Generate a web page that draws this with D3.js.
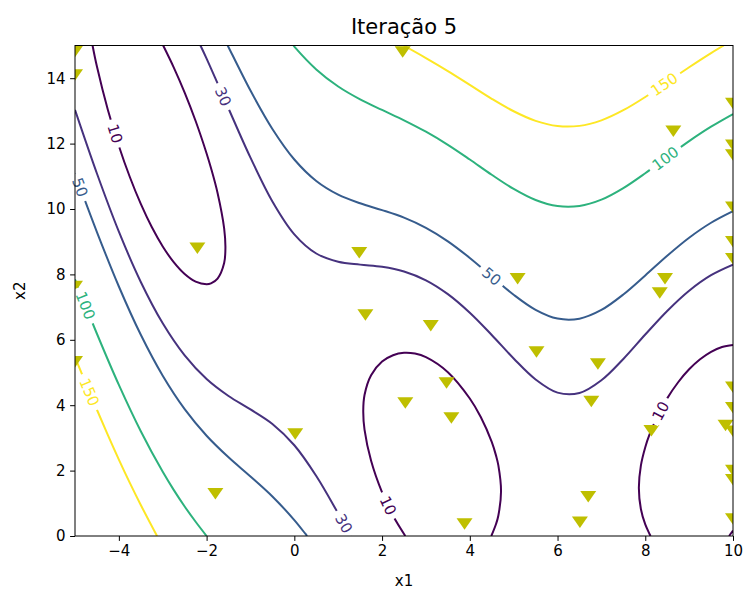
<!DOCTYPE html>
<html lang="pt">
<head>
<meta charset="UTF-8">
<title>Iteração 5</title>
<style>
  body { margin: 0; background: #fff; }
  text { font-family: "DejaVu Sans", sans-serif; }
</style>
</head>
<body>
<script src="https://d3js.org/d3.v7.min.js"></script>
<script>

var width = 746,
    height = 592;

var levels = [10, 30, 50, 100, 150];
var xTicks = [-4, -2, 0, 2, 4, 6, 8, 10];
var yTicks = [0, 2, 4, 6, 8, 10, 12, 14];

// contour lines, [x1, x2]
var c10Left = [[-4.6,15],[-4.5,14.355],[-4.25,13.027],[-4,11.928],[-3.75,10.978],[-3.5,10.154],
  [-3.25,9.447],[-3,8.854],[-2.75,8.375],[-2.5,8.012],[-2.25,7.779],[-2,7.701],[-1.9,7.728],
  [-1.75,7.873],[-1.6,8.348],[-1.571,8.819],[-1.6,9.406],[-1.75,10.489],[-1.9,11.252],
  [-2,11.699],[-2.25,12.691],[-2.5,13.56],[-2.75,14.333],[-2.99,15]];
var c10Mid = [[2.53,0],[2.25,0.617],[2,1.335],[1.75,2.302],[1.6,3.255],[1.571,3.819],[1.6,4.313],
  [1.75,4.918],[2,5.333],[2.25,5.529],[2.5,5.603],[2.75,5.579],[3,5.471],[3.5,5.011],[4,4.206],
  [4.25,3.639],[4.5,2.877],[4.6,2.45],[4.65,2.166],[4.712,1.369],[4.65,0.62],[4.6,0.374],[4.49,0]];
var c10Right = [[8.12,0],[8.1,0.055],[8,0.353],[7.9,0.826],[7.854,1.469],[7.9,2.152],[8,2.717],
  [8.1,3.113],[8.25,3.582],[8.5,4.209],[8.75,4.702],[9,5.098],[9.25,5.404],[9.5,5.633],
  [9.75,5.781],[10,5.841]];
var c10Corner = [[9.91,0],[10,0.165]];

var c30Upper = [[-2.14,15],[-2,14.599],[-1.75,13.841],[-1.5,13.074],[-1,11.57],[-0.5,10.23],
  [0,9.225],[0.5,8.639],[1,8.387],[1.5,8.299],[2,8.233],[2.5,8.091],[3,7.82],[3.5,7.396],
  [4,6.827],[4.5,6.147],[5,5.428],[5.5,4.787],[6,4.384],[6.5,4.372],[7,4.761],[7.5,5.413],
  [8,6.161],[8.5,6.883],[9,7.502],[9.5,7.977],[10,8.3]];
var c30Lower = [[-5,13.031],[-4.5,11.085],[-4,9.307],[-3.5,7.769],[-3,6.505],[-2.5,5.524],
  [-2,4.801],[-1.5,4.282],[-1,3.872],[-0.5,3.426],[0,2.775],[0.5,1.835],[1,0.689],[1.29,0]];

var c50Upper = [[-1.52,15],[-1.5,14.949],[-1,13.621],[-0.5,12.447],[0,11.513],[0.5,10.856],
  [1,10.438],[1.5,10.174],[2,9.967],[2.5,9.735],[3,9.424],[3.5,9.012],[4,8.504],[4.5,7.937],
  [5,7.377],[5.5,6.916],[6,6.649],[6.5,6.647],[7,6.913],[7.5,7.386],[8,7.969],[8.5,8.571],
  [9,9.122],[9.5,9.58],[10,9.935]];
var c50Lower = [[-5,11.082],[-4.5,9.295],[-4,7.63],[-3.5,6.153],[-3,4.901],[-2.5,3.88],
  [-2,3.067],[-1.5,2.407],[-1,1.821],[-0.5,1.209],[0,0.487],[0.25,0.07],[0.29,0]];

var c100Upper = [[-0.02,15],[0,14.966],[0.5,14.269],[1,13.747],[1.5,13.354],[2,13.029],
  [2.5,12.713],[3,12.363],[3.5,11.962],[4,11.513],[4.5,11.047],[5,10.614],[5.5,10.275],
  [6,10.089],[6.5,10.092],[7,10.286],[7.5,10.64],[8,11.095],[8.5,11.592],[9,12.077],
  [9.5,12.518],[10,12.905]];
var c100Lower = [[-5,7.845],[-4.5,6.185],[-4,4.621],[-3.5,3.203],[-3,1.962],[-2.75,1.41],
  [-2.5,0.902],[-2.25,0.435],[-2,0]];

var c150Upper = [[2.49,15],[3,14.615],[3.5,14.218],[4,13.796],[4.5,13.371],[5,12.989],
  [5.5,12.695],[6,12.537],[6.5,12.542],[7,12.711],[7.5,13.021],[8,13.426],[8.5,13.879],
  [9,14.336],[9.5,14.769],[9.79,15]];
var c150Lower = [[-5,5.47],[-4.75,4.657],[-4.5,3.861],[-4.25,3.086],[-4,2.338],[-3.75,1.624],
  [-3.5,0.947],[-3.13,0]];

// inline labels: level, x1, x2
var contourLabels = [[10,-4.03,12.33],[30,-1.6,13.45],[50,4.53,7.99],[100,8.45,11.56],
  [150,8.41,13.86],[50,-4.83,10.69],[100,-4.72,7.07],[150,-4.64,4.42],[30,1.22,0.45],
  [10,2.17,0.95],[10,8.29,3.86]];

// evaluated points
var pointsX1 = [-5,-5,-5,-5,-2.21,2.47,1.48,1.62,3.11,5.09,5.52,6.92,3.47,2.53,3.58,0.02,
  -1.8,3.88,6.51,6.7,6.77,8.14,8.33,8.45,8.64,9.83,
  10,10,10,10,10,10,10,10,10,10,10,10];
var pointsX2 = [14.82,14.1,7.63,5.33,8.8,14.8,8.66,6.76,6.43,7.87,5.63,5.26,4.68,4.07,3.61,3.12,
  1.29,0.37,0.42,1.2,4.11,3.22,7.43,7.87,12.38,3.38,
  13.23,11.95,11.65,10.05,9.0,8.48,4.55,3.92,3.2,2.0,1.72,0.52];

var contours = [[10,c10Left],[10,c10Mid],[10,c10Right],[10,c10Corner],
  [30,c30Upper],[30,c30Lower],[50,c50Upper],[50,c50Lower],
  [100,c100Upper],[100,c100Lower],[150,c150Upper],[150,c150Lower]];

var plotLeft = 75, plotRight = 733, plotTop = 45.5, plotBottom = 536;

var x = d3.scaleLinear().domain([-5, 10]).range([plotLeft, plotRight]);
var y = d3.scaleLinear().domain([0, 15]).range([plotBottom, plotTop]);
var color = d3.scaleSequential(d3.interpolateViridis).domain([d3.min(levels), d3.max(levels)]);

var svg = d3.select("body").append("svg")
    .attr("width", width)
    .attr("height", height);

svg.append("clipPath").attr("id", "plot")
  .append("rect")
    .attr("x", plotLeft).attr("y", plotTop)
    .attr("width", plotRight - plotLeft).attr("height", plotBottom - plotTop);

var plot = svg.append("g").attr("clip-path", "url(#plot)");

var line = d3.line()
    .x(function(d) { return x(d[0]); })
    .y(function(d) { return y(d[1]); })
    .curve(d3.curveCatmullRom.alpha(0.5));

plot.selectAll("path.contour")
  .data(contours)
  .enter().append("path")
    .attr("class", "contour")
    .attr("d", function(d) { return line(d[1]); })
    .attr("fill", "none")
    .attr("stroke", function(d) { return color(d[0]); })
    .attr("stroke-width", 2);

// put each label on the nearest spot of its line, turned along it
function placeLabel(lab) {
  var px = x(lab[1]), py = y(lab[2]), best = null;
  contours.filter(function(c) { return c[0] === lab[0]; }).forEach(function(c) {
    var pts = c[1].map(function(p) { return [x(p[0]), y(p[1])]; });
    for (var i = 0; i < pts.length - 1; i++) {
      var ax = pts[i][0], ay = pts[i][1], bx = pts[i+1][0], by = pts[i+1][1];
      var dx = bx - ax, dy = by - ay, len2 = dx * dx + dy * dy;
      var t = Math.max(0, Math.min(1, ((px - ax) * dx + (py - ay) * dy) / len2));
      var qx = ax + t * dx, qy = ay + t * dy;
      var dist = (qx - px) * (qx - px) + (qy - py) * (qy - py);
      if (!best || dist < best.dist) {
        var ang = Math.atan2(dy, dx) * 180 / Math.PI;
        if (ang > 90) ang -= 180;
        if (ang < -90) ang += 180;
        best = { x: qx, y: qy, angle: ang, dist: dist };
      }
    }
  });
  return best;
}

var labelGroup = svg.append("g");

contourLabels.forEach(function(lab) {
  var p = placeLabel(lab);
  var g = labelGroup.append("g")
      .attr("transform", "translate(" + p.x + "," + p.y + ") rotate(" + p.angle + ")");
  var bg = g.append("rect").attr("fill", "#fff");
  var t = g.append("text")
      .attr("text-anchor", "middle")
      .attr("dy", "0.36em")
      .attr("font-size", "15px")
      .attr("fill", color(lab[0]))
      .text(lab[0]);
  var w = t.node().getComputedTextLength() + 10;
  bg.attr("x", -w / 2).attr("y", -5).attr("width", w).attr("height", 10);
});

var tw = 16, th = 11.5;
var triangle = "M" + (-tw / 2) + "," + (-th / 2) + "L" + (tw / 2) + "," + (-th / 2) + "L0," + (th / 2) + "Z";

plot.selectAll("path.point")
  .data(d3.range(pointsX1.length))
  .enter().append("path")
    .attr("class", "point")
    .attr("d", triangle)
    .attr("transform", function(i) { return "translate(" + x(pointsX1[i]) + "," + y(pointsX2[i]) + ")"; })
    .attr("fill", "#bfbf00");

// frame
svg.append("rect")
    .attr("x", plotLeft).attr("y", plotTop)
    .attr("width", plotRight - plotLeft).attr("height", plotBottom - plotTop)
    .attr("fill", "none")
    .attr("stroke", "#000")
    .attr("stroke-width", 1);

function fmt(d) { return d < 0 ? "\u2212" + Math.abs(d) : String(d); }

var xAxis = svg.append("g")
    .attr("transform", "translate(0," + plotBottom + ")")
    .call(d3.axisBottom(x).tickValues(xTicks).tickFormat(fmt).tickSize(4.9).tickSizeOuter(0).tickPadding(4.5));
var yAxis = svg.append("g")
    .attr("transform", "translate(" + plotLeft + ",0)")
    .call(d3.axisLeft(y).tickValues(yTicks).tickFormat(fmt).tickSize(4.9).tickSizeOuter(0).tickPadding(4.5));

[xAxis, yAxis].forEach(function(a) {
  a.select(".domain").remove();
  a.selectAll("line").attr("stroke", "#000").attr("stroke-width", 1);
  a.selectAll("text").attr("font-size", "15px").attr("fill", "#000")
    .attr("font-family", "DejaVu Sans, sans-serif");
});

svg.append("text")
    .attr("x", (plotLeft + plotRight) / 2).attr("y", 34)
    .attr("text-anchor", "middle")
    .attr("font-size", "21px")
    .attr("fill", "#000")
    .text("Iteração 5");

svg.append("text")
    .attr("x", (plotLeft + plotRight) / 2).attr("y", 586)
    .attr("text-anchor", "middle")
    .attr("font-size", "15px")
    .attr("fill", "#000")
    .text("x1");

svg.append("text")
    .attr("transform", "translate(25," + ((plotTop + plotBottom) / 2) + ") rotate(-90)")
    .attr("text-anchor", "middle")
    .attr("font-size", "15px")
    .attr("fill", "#000")
    .text("x2");

</script>
</body>
</html>
